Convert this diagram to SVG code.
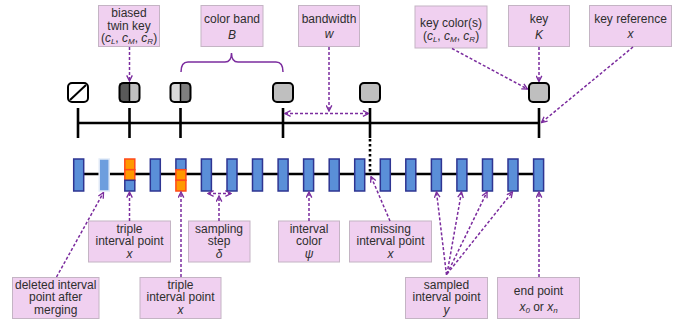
<svg xmlns="http://www.w3.org/2000/svg" width="683" height="324" viewBox="0 0 683 324">
  <style>
    .lbl { fill: #F0D0F0; stroke: #C4B4C4; stroke-width: 1; }
    .t { font-family: "Liberation Sans", Arial, sans-serif; font-size: 12px; fill: #2E2E2E; text-anchor: middle; }
    .it { font-style: italic; }
    .conn { fill: none; stroke: #7B2C9E; stroke-width: 1.5; stroke-dasharray: 3 2; }
    .axis { stroke: #000; stroke-width: 2.6; fill: none; }
    .key { stroke: #000; stroke-width: 2; }
    .iv { fill: #5A8FD8; stroke: #2E3592; stroke-width: 1.5; }
    .or { fill: #FF9900; stroke: #FF4A1A; stroke-width: 1.5; }
  </style>
  <defs>
    <marker id="ah" viewBox="0 0 10 10" refX="9" refY="5" markerWidth="7" markerHeight="7" orient="auto-start-reverse" markerUnits="userSpaceOnUse">
      <path d="M1,1 L9,5 L1,9" fill="none" stroke="#7B2C9E" stroke-width="1.9"/>
    </marker>
  </defs>

  <!-- key axis -->
  <g id="key-axis">
    <line class="axis" x1="78" y1="123" x2="540" y2="123"/>
    <line class="axis" x1="78" y1="108" x2="78" y2="138"/>
    <line class="axis" x1="129.5" y1="108" x2="129.5" y2="138"/>
    <line class="axis" x1="180.5" y1="108" x2="180.5" y2="138"/>
    <line class="axis" x1="283" y1="108" x2="283" y2="138"/>
    <line class="axis" x1="370" y1="108" x2="370" y2="138"/>
    <line class="axis" x1="539" y1="108" x2="539" y2="138"/>
    <line x1="370" y1="139" x2="370" y2="172" stroke="#000" stroke-width="2.6" stroke-dasharray="2.5 2.5"/>
  </g>

  <!-- keys -->
  <g id="key-deleted">
    <rect class="key" x="68" y="83" width="20" height="19" rx="4" fill="#fff"/>
    <line x1="70" y1="100" x2="86" y2="85" stroke="#000" stroke-width="2"/>
  </g>
  <g id="key-twin-left">
    <rect x="119.5" y="83" width="10" height="19" fill="#595959"/>
    <rect x="129.5" y="83" width="10" height="19" fill="#BFBFBF"/>
    <rect class="key" x="119.5" y="83" width="20" height="19" rx="4" fill="none"/>
    <line x1="129.5" y1="83" x2="129.5" y2="102" stroke="#000" stroke-width="1.5"/>
  </g>
  <g id="key-twin-right">
    <rect x="170.5" y="83" width="10" height="19" fill="#D9D9D9"/>
    <rect x="180.5" y="83" width="10" height="19" fill="#7F7F7F"/>
    <rect class="key" x="170.5" y="83" width="20" height="19" rx="4" fill="none"/>
    <line x1="180.5" y1="83" x2="180.5" y2="102" stroke="#000" stroke-width="1.5"/>
  </g>
  <g id="key-4"><rect class="key" x="273" y="83" width="20" height="19" rx="4" fill="#BFBFBF"/></g>
  <g id="key-5"><rect class="key" x="360" y="83" width="20" height="19" rx="4" fill="#BFBFBF"/></g>
  <g id="key-6"><rect class="key" x="529" y="83" width="20" height="19" rx="4" fill="#BFBFBF"/></g>

  <!-- interval axis -->
  <g id="interval-axis">
    <line class="axis" x1="78" y1="174" x2="539" y2="174"/>
    <rect class="iv" x="73.7" y="159" width="10" height="32"/>
    <rect x="99.2" y="159" width="10" height="32" fill="#6E9EDE" stroke="#E2EBF7" stroke-width="1.5"/>
    <g id="iv-triple-top">
      <rect class="or" x="124.8" y="159" width="10" height="10.7"/>
      <rect class="or" x="124.8" y="169.7" width="10" height="10.6"/>
      <rect class="iv" x="124.8" y="180.3" width="10" height="10.7"/>
    </g>
    <rect class="iv" x="150.3" y="159" width="10" height="32"/>
    <g id="iv-triple-bottom">
      <rect class="iv" x="175.9" y="159" width="10" height="10.7"/>
      <rect class="or" x="175.9" y="169.7" width="10" height="10.6"/>
      <rect class="or" x="175.9" y="180.3" width="10" height="10.7"/>
    </g>
    <rect class="iv" x="201.4" y="159" width="10" height="32"/>
    <rect class="iv" x="227" y="159" width="10" height="32"/>
    <rect class="iv" x="252.5" y="159" width="10" height="32"/>
    <rect class="iv" x="278.1" y="159" width="10" height="32"/>
    <rect class="iv" x="303.6" y="159" width="10" height="32"/>
    <rect class="iv" x="329.2" y="159" width="10" height="32"/>
    <rect class="iv" x="354.7" y="159" width="10" height="32"/>
    <rect class="iv" x="380.3" y="159" width="10" height="32"/>
    <rect class="iv" x="405.8" y="159" width="10" height="32"/>
    <rect class="iv" x="431.4" y="159" width="10" height="32"/>
    <rect class="iv" x="456.9" y="159" width="10" height="32"/>
    <rect class="iv" x="482.5" y="159" width="10" height="32"/>
    <rect class="iv" x="508" y="159" width="10" height="32"/>
    <rect class="iv" x="533.6" y="159" width="10" height="32"/>
  </g>

  <!-- top labels -->
  <g id="lbl-biased-twin-key">
    <rect class="lbl" x="98.5" y="5.5" width="61" height="41"/>
    <text class="t" x="129" y="17">biased</text>
    <text class="t" x="129" y="29.5">twin key</text>
    <text class="t" x="129" y="42">(<tspan class="it">c</tspan><tspan font-size="8" dy="2" class="it">L</tspan><tspan dy="-2">, </tspan><tspan class="it">c</tspan><tspan font-size="8" dy="2" class="it">M</tspan><tspan dy="-2">, </tspan><tspan class="it">c</tspan><tspan font-size="8" dy="2" class="it">R</tspan><tspan dy="-2">)</tspan></text>
  </g>
  <g id="lbl-color-band">
    <rect class="lbl" x="201" y="5.5" width="62" height="41"/>
    <text class="t" x="232" y="23">color band</text>
    <text class="t it" x="232" y="38.5">B</text>
  </g>
  <g id="lbl-bandwidth">
    <rect class="lbl" x="298.5" y="5.5" width="61" height="41"/>
    <text class="t" x="329" y="23">bandwidth</text>
    <text class="t it" x="329" y="37.5">w</text>
  </g>
  <g id="lbl-key-colors">
    <rect class="lbl" x="415" y="6" width="72" height="42"/>
    <text class="t" x="451" y="26.5">key color(s)</text>
    <text class="t" x="451" y="39.5">(<tspan class="it">c</tspan><tspan font-size="8" dy="2" class="it">L</tspan><tspan dy="-2">, </tspan><tspan class="it">c</tspan><tspan font-size="8" dy="2" class="it">M</tspan><tspan dy="-2">, </tspan><tspan class="it">c</tspan><tspan font-size="8" dy="2" class="it">R</tspan><tspan dy="-2">)</tspan></text>
  </g>
  <g id="lbl-key">
    <rect class="lbl" x="508.5" y="5.5" width="61" height="41"/>
    <text class="t" x="539" y="23">key</text>
    <text class="t it" x="539" y="38.5">K</text>
  </g>
  <g id="lbl-key-reference">
    <rect class="lbl" x="589.5" y="5.5" width="82" height="41"/>
    <text class="t" x="630.5" y="23">key reference</text>
    <text class="t it" x="630.5" y="37.5">x</text>
  </g>

  <!-- bottom labels -->
  <g id="lbl-triple-1">
    <rect class="lbl" x="88.5" y="221" width="82" height="41"/>
    <text class="t" x="129.5" y="232.5">triple</text>
    <text class="t" x="129.5" y="245">interval point</text>
    <text class="t it" x="129.5" y="257.5">x</text>
  </g>
  <g id="lbl-sampling-step">
    <rect class="lbl" x="188.5" y="221" width="61.5" height="41"/>
    <text class="t" x="219" y="232.5">sampling</text>
    <text class="t" x="219" y="245">step</text>
    <text class="t it" x="219" y="257.5">δ</text>
  </g>
  <g id="lbl-interval-color">
    <rect class="lbl" x="278.5" y="221" width="61" height="41"/>
    <text class="t" x="309" y="232.5">interval</text>
    <text class="t" x="309" y="245">color</text>
    <text class="t it" x="309" y="257.5">ψ</text>
  </g>
  <g id="lbl-missing">
    <rect class="lbl" x="349.5" y="221" width="82" height="41"/>
    <text class="t" x="390.5" y="232.5">missing</text>
    <text class="t" x="390.5" y="245">interval point</text>
    <text class="t it" x="390.5" y="257.5">x</text>
  </g>
  <g id="lbl-deleted">
    <rect class="lbl" x="12.5" y="277.5" width="86.5" height="41"/>
    <text class="t" x="55.7" y="288.5">deleted interval</text>
    <text class="t" x="55.7" y="301">point after</text>
    <text class="t" x="55.7" y="313.5">merging</text>
  </g>
  <g id="lbl-triple-2">
    <rect class="lbl" x="140" y="277.5" width="81" height="41"/>
    <text class="t" x="180.5" y="288.5">triple</text>
    <text class="t" x="180.5" y="301">interval point</text>
    <text class="t it" x="180.5" y="313.5">x</text>
  </g>
  <g id="lbl-sampled">
    <rect class="lbl" x="405.5" y="277.5" width="82" height="41"/>
    <text class="t" x="446.5" y="288.5">sampled</text>
    <text class="t" x="446.5" y="301">interval point</text>
    <text class="t it" x="446.5" y="313.5">y</text>
  </g>
  <g id="lbl-end-point">
    <rect class="lbl" x="497.5" y="277.5" width="82" height="41"/>
    <text class="t" x="538.5" y="295">end point</text>
    <text class="t" x="538.5" y="311"><tspan class="it">x</tspan><tspan class="it" font-size="8" dy="2">0</tspan><tspan dy="-2"> or </tspan><tspan class="it">x</tspan><tspan class="it" font-size="8" dy="2">n</tspan></text>
  </g>

  <!-- connectors -->
  <g id="connectors">
    <line class="conn" x1="129.5" y1="47" x2="129.5" y2="81" marker-end="url(#ah)"/>
    <path d="M181,72 Q181,62 188,62 L225,62 Q231.5,62 231.5,53 Q231.5,62 238,62 L276,62 Q283,62 283,72" fill="none" stroke="#7B2C9E" stroke-width="1.5"/>
    <line class="conn" x1="329" y1="47" x2="329" y2="111" marker-end="url(#ah)"/>
    <line class="conn" x1="285" y1="113.5" x2="368.5" y2="113.5" marker-start="url(#ah)" marker-end="url(#ah)"/>
    <line class="conn" x1="452" y1="48.5" x2="527.5" y2="89" marker-end="url(#ah)"/>
    <line class="conn" x1="539" y1="47" x2="539" y2="81.5" marker-end="url(#ah)"/>
    <line class="conn" x1="633" y1="47" x2="541.5" y2="122.5" marker-end="url(#ah)"/>

    <line class="conn" x1="129.5" y1="221" x2="129.5" y2="192" marker-end="url(#ah)"/>
    <line class="conn" x1="219" y1="221" x2="219" y2="196" marker-end="url(#ah)"/>
    <line class="conn" x1="208" y1="193.5" x2="231" y2="193.5" marker-start="url(#ah)" marker-end="url(#ah)"/>
    <line class="conn" x1="309" y1="221" x2="309" y2="192" marker-end="url(#ah)"/>
    <line class="conn" x1="390" y1="221" x2="371" y2="176.5" marker-end="url(#ah)"/>
    <line class="conn" x1="56.5" y1="277" x2="103.5" y2="192.5" marker-end="url(#ah)"/>
    <line class="conn" x1="181" y1="277" x2="181" y2="192" marker-end="url(#ah)"/>
    <line class="conn" x1="446.5" y1="275" x2="436.5" y2="192" marker-end="url(#ah)"/>
    <line class="conn" x1="447" y1="274" x2="461.5" y2="192" marker-end="url(#ah)"/>
    <line class="conn" x1="447" y1="274" x2="487" y2="192" marker-end="url(#ah)"/>
    <line class="conn" x1="447" y1="274" x2="512.5" y2="192" marker-end="url(#ah)"/>
    <line class="conn" x1="539" y1="277" x2="539" y2="192" marker-end="url(#ah)"/>
  </g>
</svg>
